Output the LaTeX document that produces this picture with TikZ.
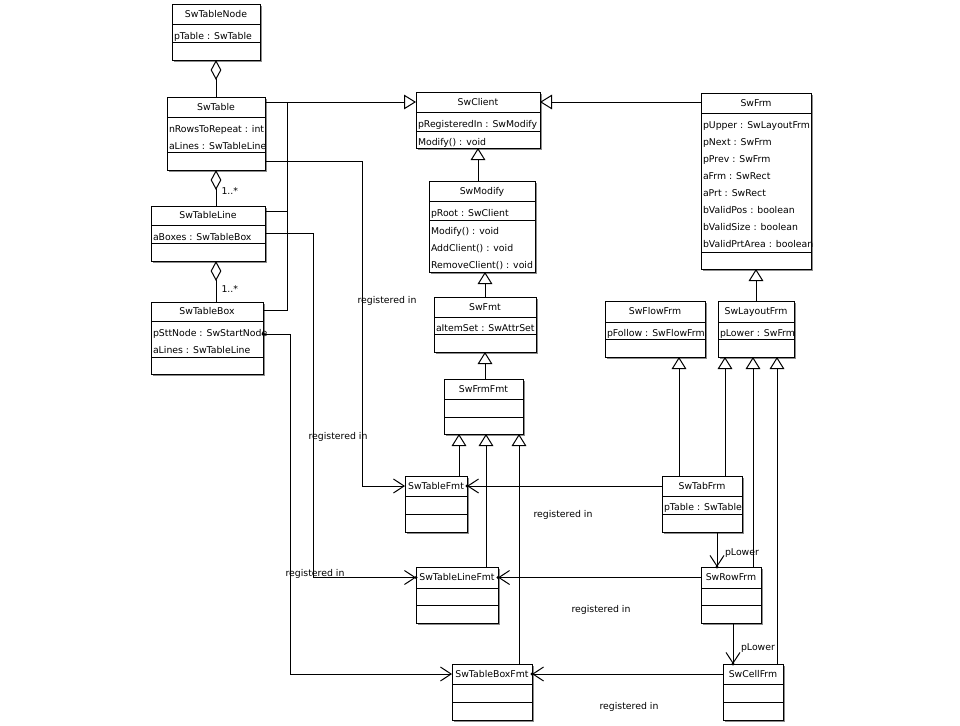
\documentclass[tikz,border=0pt]{standalone}
\usepackage{fontspec}
\setmainfont{DejaVu Sans}
\usetikzlibrary{arrows.meta,calc,shadows}

\newcommand\px{0.75pt}
\newcommand\umlfont{\fontsize{7}{8}\selectfont}

\tikzset{
  classbox/.style={draw, fill=white, anchor=north west, inner sep=0pt, outer sep=0pt,
    drop shadow={shadow xshift=1.2pt, shadow yshift=-1.2pt, fill=black!45, opacity=1}},
  classname/.style={font=\umlfont, inner sep=0pt, text height=5pt, text depth=0pt},
  member/.style={classname, anchor=west},
  note/.style={classname},
  inherit/.style={-{Triangle[open, length=9pt, width=11pt]}},
  aggr/.style={-{Diamond[open, length=15pt, width=8pt]}},
  assoc/.style={-{Straight Barb[length=8pt, width=10.5pt]}},
  dot/.style={fill=black},
}

% node, x, y, width, height, 1st rule, 2nd rule, name
\newcommand\umlclass[8]{%
  \node[classbox, minimum width=#4*\px, minimum height=#5*\px] (#1) at (#2,#3) {};
  \draw ($(#1.north west)+(0,#6)$) -- ++(#4,0);
  \draw ($(#1.north west)+(0,#7)$) -- ++(#4,0);
  \node[classname] (#1-name) at ($(#1.north)+(0,#6/2)$) {#8};
}
% prefix, class node, offset of first row, rows
\newcommand\umlrows[4]{%
  \foreach \txt [count=\i] in {#4}
    \node[member] (#1\i) at ($(#2.north west)+(1.5,#3+17*\i-17)$) {\txt};
}

\begin{document}
\begin{tikzpicture}[x=0.75pt, y=-0.75pt, line width=0.75pt]
  \useasboundingbox (0,0) rectangle (960,725);
  \fill[white] (0,0) rectangle (960,725);

  % table side
  \umlclass{tnode}{172}{4}{88}{56}{20}{38}{SwTableNode}
  \umlrows{tnode-a}{tnode}{32}{pTable : SwTable}
  \umlclass{tbl}{167}{97}{98}{73}{20}{55}{SwTable}
  \umlrows{tbl-a}{tbl}{32}{nRowsToRepeat : int, aLines : SwTableLine}
  \umlclass{tline}{151}{206}{114}{55}{19}{37}{SwTableLine}
  \umlrows{tline-a}{tline}{31}{aBoxes : SwTableBox}
  \umlclass{tbox}{151}{302}{112}{72}{19}{55}{SwTableBox}
  \umlrows{tbox-a}{tbox}{31}{pSttNode : SwStartNode, aLines : SwTableLine}

  % client / modify / formats
  \umlclass{client}{416}{92}{124}{56}{20}{39}{SwClient}
  \umlrows{client-a}{client}{32}{pRegisteredIn : SwModify}
  \umlrows{client-o}{client}{50}{Modify() : void}
  \umlclass{modify}{429}{181}{106}{91}{20}{39}{SwModify}
  \umlrows{modify-a}{modify}{32}{pRoot : SwClient}
  \umlrows{modify-o}{modify}{50}{Modify() : void, AddClient() : void, RemoveClient() : void}
  \umlclass{fmt}{434}{297}{102}{55}{20}{37}{SwFmt}
  \umlrows{fmt-a}{fmt}{31}{aItemSet : SwAttrSet}
  \umlclass{frmfmt}{444}{379}{79}{55}{20}{38}{SwFrmFmt}
  \umlclass{tfmt}{405}{476}{62}{56}{20}{38}{SwTableFmt}
  \umlclass{tlfmt}{416}{567}{82}{56}{21}{38}{SwTableLineFmt}
  \umlclass{tbfmt}{452}{664}{80}{56}{20}{38}{SwTableBoxFmt}

  % frames
  \umlclass{frm}{701}{93}{110}{176}{20}{159}{SwFrm}
  \umlrows{frm-a}{frm}{32}{pUpper : SwLayoutFrm, pNext : SwFrm, pPrev : SwFrm, aFrm : SwRect,
    aPrt : SwRect, bValidPos : boolean, bValidSize : boolean, bValidPrtArea : boolean}
  \umlclass{flowfrm}{605}{301}{100}{56}{21}{38}{SwFlowFrm}
  \umlrows{flowfrm-a}{flowfrm}{32}{pFollow : SwFlowFrm}
  \umlclass{lfrm}{718}{301}{76}{56}{21}{38}{SwLayoutFrm}
  \umlrows{lfrm-a}{lfrm}{32}{pLower : SwFrm}
  \umlclass{tabfrm}{662}{476}{80}{56}{20}{38}{SwTabFrm}
  \umlrows{tabfrm-a}{tabfrm}{31}{pTable : SwTable}
  \umlclass{rowfrm}{701}{567}{60}{56}{21}{38}{SwRowFrm}
  \umlclass{cellfrm}{723}{664}{60}{56}{20}{38}{SwCellFrm}

  % aggregation
  \draw[aggr] (tbl.north) -- (tnode.south);
  \draw[aggr] (tline.north -| tbl.south) -- (tbl.south);
  \draw[aggr] (tbox.north -| tbl.south) -- (tline.south -| tbl.south);
  \node[note, anchor=west] (mult-line) at (221,191) {1..*};
  \node[note, anchor=west] (mult-box) at (221,289) {1..*};

  % generalisation
  \coordinate (tjoin) at (287,0 |- client-name);
  \draw[inherit] (tbl.east |- client-name) -- (client.west |- client-name);
  \draw (tline.east |- 0,211) -| (tjoin);
  \draw (tbox.east |- 0,310) -| (tjoin);
  \draw[inherit] (frm.west |- client-name) -- (client.east |- client-name);
  \draw[inherit] (modify.north -| client.south) -- (client.south);
  \draw[inherit] (fmt.north) -- (fmt.north |- modify.south);
  \draw[inherit] (frmfmt.north -| fmt.south) -- (fmt.south);
  \draw[inherit] (lfrm.north) -- (frm.south);
  \draw[inherit] (459,0 |- tfmt.north) -- (459,0 |- frmfmt.south);
  \draw[inherit] (486,0 |- tlfmt.north) -- (486,0 |- frmfmt.south);
  \draw[inherit] (519,0 |- tbfmt.north) -- (519,0 |- frmfmt.south);
  \draw[inherit] (679,0 |- tabfrm.north) -- (679,0 |- flowfrm.south);
  \draw[inherit] (725,0 |- tabfrm.north) -- (725,0 |- lfrm.south);
  \draw[inherit] (753,0 |- rowfrm.north) -- (753,0 |- lfrm.south);
  \draw[inherit] (777,0 |- cellfrm.north) -- (777,0 |- lfrm.south);

  % registered in
  \draw[assoc] (tbl.east |- 0,161) -| (362,0 |- tfmt-name) -- (tfmt.west |- tfmt-name);
  \draw[assoc] (tline.east |- 0,233) -| (313,0 |- tlfmt-name) -- (tlfmt.west |- tlfmt-name);
  \draw[assoc] (tbox.east |- 0,334) -| (290,0 |- tbfmt-name) -- (tbfmt.west |- tbfmt-name);
  \draw[assoc] (tabfrm.west |- tabfrm-name) -- (tfmt.east |- tabfrm-name);
  \draw[assoc] (rowfrm.west |- rowfrm-name) -- (tlfmt.east |- rowfrm-name);
  \draw[assoc] (cellfrm.west |- cellfrm-name) -- (tbfmt.east |- cellfrm-name);
  \node[note] (reg-tbl) at (387,300) {registered in};
  \node[note] (reg-tbox) at (338,436) {registered in};
  \node[note] (reg-tline) at (315,573) {registered in};
  \node[note] (reg-tabfrm) at (563,514) {registered in};
  \node[note] (reg-rowfrm) at (601,609) {registered in};
  \node[note] (reg-cellfrm) at (629,706) {registered in};

  % pLower
  \draw[assoc] (717,0 |- tabfrm.south) -- (717,0 |- rowfrm.north);
  \draw[assoc] (733,0 |- rowfrm.south) -- (733,0 |- cellfrm.north);
  \node[note] (low-row) at (742,552) {pLower};
  \node[note] (low-cell) at (758,647) {pLower};

  % end points
  \fill[dot] (tbox.east |- 0,334) circle (1.6);
  \fill[dot] (tfmt.east |- tfmt-name) circle (1.6);
  \fill[dot] (tlfmt.west |- tlfmt-name) circle (1.6);
  \fill[dot] (tlfmt.east |- tlfmt-name) circle (1.6);
  \fill[dot] (tbfmt.east |- tbfmt-name) circle (1.6);
  \fill[dot] (717,0 |- rowfrm.north) circle (1.6);
  \fill[dot] (733,0 |- cellfrm.north) circle (1.6);
\end{tikzpicture}
\end{document}
